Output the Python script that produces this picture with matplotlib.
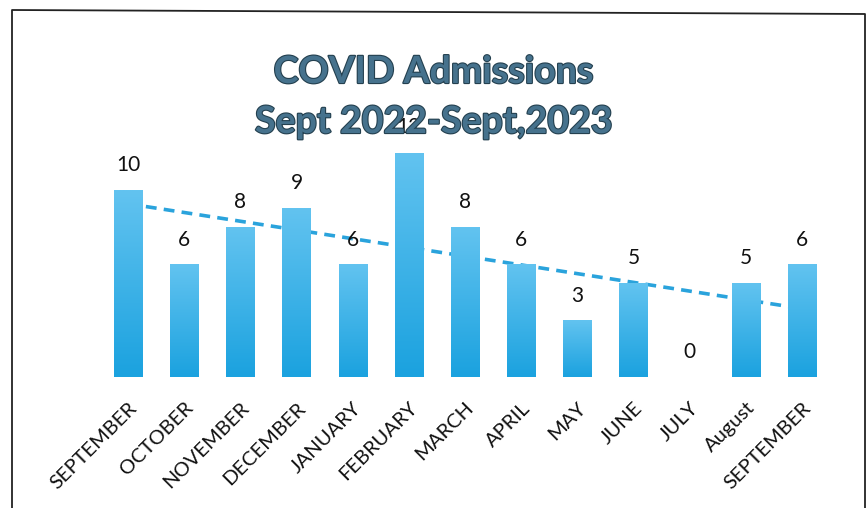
import numpy as np
import matplotlib
matplotlib.use("Agg")
import matplotlib.pyplot as plt
import matplotlib.patheffects as pe
from matplotlib.colors import LinearSegmentedColormap
from matplotlib.lines import Line2D

months = ["SEPTEMBER", "OCTOBER", "NOVEMBER", "DECEMBER", "JANUARY", "FEBRUARY",
          "MARCH", "APRIL", "MAY", "JUNE", "JULY", "August", "SEPTEMBER"]
admissions = [10, 6, 8, 9, 6, 12, 8, 6, 3, 5, 0, 5, 6]

plt.rcParams["font.family"] = ["Lato", "DejaVu Sans"]

fig = plt.figure(figsize=(8.67, 5.08), dpi=100)
ax = fig.add_axes([0.1153, 0.2579, 0.842, 0.4417])

x = np.arange(1, len(admissions) + 1)
bar_w = 0.5
grad = LinearSegmentedColormap.from_list("bar", ["#1ba2df", "#62c3f0"])
g = np.linspace(0, 1, 100).reshape(-1, 1)

for xi, v in zip(x, admissions):
    if v > 0:
        ax.imshow(g, cmap=grad, origin="lower", aspect="auto",
                  extent=(xi - bar_w / 2, xi + bar_w / 2, 0, v), zorder=3)
    ax.text(xi, v + 1.35, str(v), ha="center", va="center", fontsize=15,
            color="#111111", zorder=5, clip_on=False)

# linear trendline
slope, intercept = np.polyfit(x, admissions, 1)
ax.add_line(Line2D(x, slope * x + intercept, color="#2aa3dc", lw=2.6,
                   ls=(0, (3, 2)), zorder=2))

ax.set_xlim(0.5, len(admissions) + 0.5)
ax.set_ylim(0, 12)
ax.set_xticks(x)
ax.set_xticklabels(months, rotation=45, ha="right", rotation_mode="anchor",
                   fontsize=14.5, color="#111111")
ax.tick_params(length=0, pad=16)
ax.set_yticks([])
for s in ax.spines.values():
    s.set_visible(False)

title_fx = [pe.withStroke(linewidth=1.6, foreground="#24404f")]
fig.text(0.5, 1 - 72 / 508, "COVID Admissions", ha="center", va="center",
         fontsize=27, fontweight="bold", color="#46728d", path_effects=title_fx)
fig.text(0.5, 1 - 122 / 508, "Sept 2022-Sept,2023", ha="center", va="center",
         fontsize=27, fontweight="bold", color="#46728d", path_effects=title_fx)

# chart frame
fig.add_artist(Line2D([12 / 867, 12 / 867, 865 / 867, 865 / 867],
                      [-0.1, 1 - 10 / 508, 1 - 14 / 508, -0.1],
                      transform=fig.transFigure, color="#222222", lw=1.3))

fig.savefig("out.png", dpi=100)
